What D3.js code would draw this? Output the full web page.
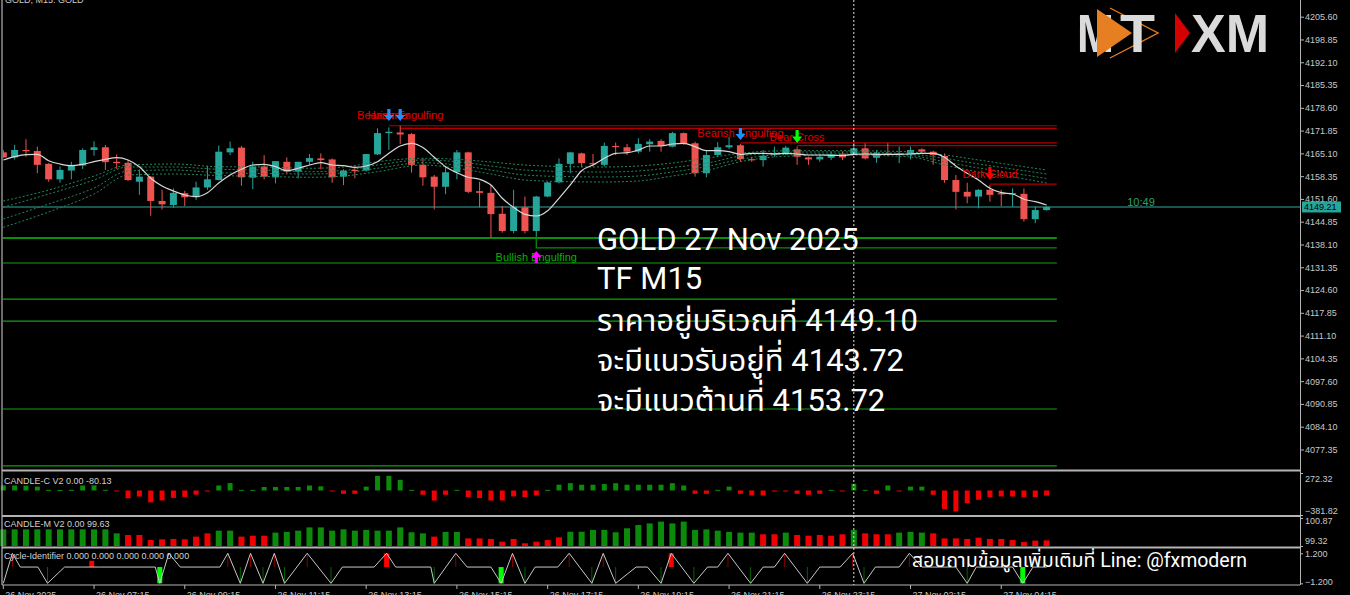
<!DOCTYPE html>
<html><head><meta charset="utf-8">
<script src="https://cdn.jsdelivr.net/npm/d3@7"></script>
<style>
html,body{margin:0;padding:0;background:#000;overflow:hidden}
svg{display:block}
</style></head><body>
<svg id="c" width="1350" height="595"></svg>
<script>
// ---------- DATA ----------
const opens  = [4165.4,4163.9,4166.1,4165.8,4162.0,4157.4,4160.0,4161.5,4166.1,4166.9,4162.6,4162.3,4156.7,4158.2,4151.0,4149.8,4153.3,4152.1,4155.0,4157.2,4165.4,4166.8,4157.9,4161.2,4158.0,4162.6,4159.7,4162.6,4163.6,4163.3,4158.2,4160.2,4160.0,4164.8,4171.1,4171.3,4170.8,4161.7,4158.2,4155.2,4159.5,4165.4,4153.9,4153.4,4147.2,4142.1,4149.1,4142.1,4152.3,4156.5,4162.0,4165.1,4162.2,4161.7,4167.3,4166.9,4165.6,4167.8,4168.8,4167.1,4171.1,4168.1,4159.2,4164.6,4166.9,4167.5,4163.4,4163.1,4164.7,4164.9,4166.3,4163.9,4163.3,4163.8,4165.0,4164.9,4166.6,4163.8,4165.1,4164.6,4164.8,4166.3,4165.6,4164.3,4157.2,4153.7,4152.3,4154.3,4153.3,4153.1,4153.1,4145.6,4148.3];
const highs  = [4166.1,4167.6,4169.3,4167.1,4162.2,4161.2,4162.6,4166.6,4168.7,4167.6,4164.8,4163.1,4160.4,4158.4,4154.3,4154.7,4154.0,4156.7,4161.4,4167.4,4168.6,4167.3,4162.6,4164.6,4162.8,4163.9,4162.6,4164.9,4165.1,4163.6,4160.4,4161.2,4164.9,4172.5,4172.8,4173.3,4171.1,4163.6,4158.7,4161.2,4166.1,4165.6,4156.7,4155.7,4149.5,4154.3,4152.3,4152.5,4156.6,4163.6,4165.5,4165.3,4164.9,4168.3,4168.3,4167.9,4169.6,4169.3,4169.3,4171.5,4171.3,4168.6,4165.9,4168.4,4170.0,4167.9,4164.1,4166.1,4167.1,4167.3,4167.1,4164.1,4164.9,4165.6,4165.6,4168.1,4168.1,4166.1,4168.1,4167.1,4167.1,4166.6,4165.9,4165.1,4158.7,4156.4,4154.5,4155.7,4154.3,4154.7,4154.7,4149.3,4149.5];
const lows   = [4163.7,4163.3,4164.1,4159.2,4156.7,4156.4,4157.4,4160.5,4164.4,4160.2,4160.5,4156.9,4152.8,4146.6,4148.5,4149.0,4149.5,4151.3,4154.3,4157.1,4164.6,4155.5,4154.5,4157.4,4156.2,4159.2,4157.7,4161.7,4160.4,4156.4,4155.7,4157.7,4159.7,4164.6,4166.1,4167.9,4159.4,4155.5,4148.5,4153.0,4157.4,4153.3,4149.1,4140.2,4141.6,4141.4,4141.4,4140.6,4152.1,4156.2,4159.2,4161.0,4161.2,4161.2,4164.6,4164.6,4165.1,4165.6,4165.6,4166.9,4167.6,4158.2,4158.0,4164.1,4166.3,4162.6,4162.6,4161.2,4164.1,4164.6,4161.7,4161.7,4162.6,4163.1,4163.1,4164.6,4163.3,4162.3,4164.3,4162.2,4163.3,4165.1,4161.7,4156.4,4148.5,4150.3,4148.8,4150.8,4149.5,4149.3,4144.9,4144.4,4148.1];
const closes = [4163.9,4166.1,4165.8,4161.7,4157.4,4160.2,4161.7,4166.1,4166.9,4162.5,4162.2,4157.2,4158.2,4151.0,4150.0,4153.4,4152.1,4155.0,4157.4,4165.6,4166.6,4158.0,4161.2,4158.2,4162.8,4159.7,4162.6,4163.7,4163.1,4158.0,4159.9,4159.9,4164.9,4171.1,4171.5,4170.7,4161.7,4158.0,4155.2,4159.5,4165.4,4153.7,4153.4,4147.1,4142.1,4149.3,4142.1,4152.3,4156.5,4162.0,4165.4,4162.2,4161.9,4167.3,4167.1,4165.6,4167.9,4168.6,4167.3,4171.1,4167.9,4159.2,4164.6,4166.9,4167.5,4163.4,4163.1,4164.4,4165.2,4166.8,4164.1,4163.3,4164.1,4164.8,4163.9,4166.6,4163.6,4165.1,4164.8,4165.1,4166.1,4165.6,4164.6,4157.2,4153.7,4152.3,4154.3,4152.8,4153.0,4153.3,4145.6,4148.3,4149.21];
const maLine = [4163.14,4164.11,4164.71,4164.82,4162.93,4161.95,4161.45,4161.86,4162.63,4163.34,4163.82,4163.14,4161.15,4157.71,4155.43,4153.95,4152.76,4152.26,4153.45,4156.32,4158.69,4160.38,4161.65,4161.86,4161.15,4159.97,4160.68,4161.65,4162.34,4161.65,4161.45,4160.97,4161.36,4162.63,4165.12,4167.29,4168.08,4166.84,4163.94,4161.15,4159.37,4158.01,4157.42,4155.73,4151.79,4149.12,4147.04,4146.54,4148.11,4151.79,4155.73,4159.97,4161.65,4163.64,4165.12,4165.30,4166.10,4167.29,4167.29,4167.88,4168.08,4167.08,4165.89,4165.89,4165.60,4164.82,4165.12,4165.12,4164.91,4165.12,4164.91,4164.62,4164.62,4164.53,4164.47,4164.82,4164.91,4164.82,4164.82,4164.82,4164.91,4165.12,4165.12,4163.94,4161.36,4159.19,4157.21,4154.75,4153.45,4153.06,4151.49,4150.78,4149.80];
const ribbonBars = [0,4,8,11,15,19,23,27,30,33,37,40,43,46,50,53,56,59,62,65,68,71,74,77,80,83,86,89,92];
const ribbon1 = [4150.99,4154.25,4158.39,4161.65,4161.95,4161.15,4161.06,4160.68,4161.06,4162.63,4163.64,4163.34,4162.54,4161.65,4161.15,4161.06,4161.36,4162.25,4163.64,4165.12,4165.80,4165.89,4165.89,4165.80,4165.51,4164.62,4163.14,4161.65,4160.17];
const ribbon2 = [4149.12,4153.06,4157.21,4161.06,4161.06,4160.38,4160.17,4159.67,4160.03,4161.65,4163.14,4162.63,4161.36,4160.17,4159.67,4159.58,4159.88,4160.91,4162.16,4164.32,4165.21,4165.51,4165.51,4165.36,4164.91,4163.64,4161.95,4160.47,4158.99];
const ribbon3 = [4145.65,4150.10,4154.84,4159.88,4160.17,4159.37,4159.14,4158.99,4159.28,4160.68,4162.34,4161.65,4160.17,4158.69,4158.19,4158.10,4158.39,4159.58,4161.15,4163.34,4164.62,4164.91,4164.91,4164.91,4164.47,4162.63,4160.77,4159.28,4157.65];
const ribbon4 = [4143.19,4147.73,4153.06,4158.69,4158.99,4158.54,4158.25,4158.01,4158.39,4159.67,4161.65,4160.68,4158.99,4157.21,4156.70,4156.62,4156.91,4158.39,4159.97,4162.63,4164.03,4164.47,4164.62,4164.47,4164.03,4161.65,4159.58,4158.10,4156.32];
const supportLevels = [4140.0,4132.6,4121.9,4115.4,4089.35,4072.5];
const resistBars   = [34,35,65,70,87];
const resistPrices = [4173.3,4172.5,4168.2,4167.4,4156.0];
const bullLevelBar = 47, bullLevelPrice = 4137.1;
const lastPrice = 4149.21;
const priceTicks = [4205.60,4198.85,4192.10,4185.35,4178.60,4171.85,4165.10,4158.35,4151.60,4144.85,4138.10,4131.35,4124.60,4117.85,4111.10,4104.35,4097.60,4090.85,4084.10,4077.35];
const tickBars   = [0,8,16,24,32,40,48,56,64,72,80,88];
const tickLabels = ["26 Nov 2025","26 Nov 07:15","26 Nov 09:15","26 Nov 11:15","26 Nov 13:15","26 Nov 15:15","26 Nov 17:15","26 Nov 19:15","26 Nov 21:15","26 Nov 23:15","27 Nov 02:15","27 Nov 04:15"];
const candleC = [80,78,75,60,10,8,10,78,80,10,-10,-120,-95,-185,-155,-115,-100,-65,-12,78,115,10,10,55,55,55,55,78,65,-12,-52,-52,60,228,228,166,10,-67,-156,-67,10,-104,-119,-156,-156,-93,-104,-78,10,90,114,90,90,100,114,90,90,90,90,114,78,-52,-52,10,60,-52,-78,-78,-10,-10,-52,-67,-52,10,-10,104,10,-52,78,-10,60,60,-67,-291,-327,-197,-145,-104,-93,-93,-104,-104,-80.13];
const candleM = [100.24,100.24,100.24,100.24,100.24,100.24,100.24,100.24,100.24,100.24,100.02,99.93,99.93,99.65,99.69,99.71,99.69,99.84,100.02,100.17,100.17,99.84,99.89,99.89,100.06,100.10,100.17,100.35,100.35,100.17,100.24,100.17,100.21,100.17,100.17,100.35,100.08,100.02,99.84,100.10,100.10,99.74,99.74,99.71,99.56,99.71,99.47,99.56,99.65,99.80,100.11,100.11,100.21,100.21,100.08,100.30,100.48,100.57,100.67,100.57,100.67,100.21,100.24,100.17,100.10,100.06,100.06,99.97,99.97,100.06,99.93,99.89,99.93,99.89,99.97,100.21,100.02,99.97,99.97,100.06,100.10,100.06,100.02,99.74,99.74,99.71,99.78,99.71,99.71,99.65,99.54,99.62,99.63];
const candleMUp = [1,1,1,1,1,1,1,1,1,1,1,0,0,0,0,0,0,0,0,1,1,0,0,0,1,1,1,1,1,1,1,1,1,1,1,1,1,1,0,1,1,0,0,0,0,0,0,0,0,0,1,1,1,1,1,1,1,1,1,1,1,1,1,1,1,1,1,0,0,1,0,0,0,0,0,1,0,0,0,1,1,1,0,0,0,0,0,0,0,0,0,0,0];
const cycleBars = [0,0.8,1.5,3.05,3.9,5.4,6.9,8.6,13.4,13.8,14.6,15.6,19.1,19.8,20.9,21.8,22.9,23.9,24.8,26.8,28.9,29.9,32.7,33.8,34.6,37.7,38,39.9,40.9,43,43.9,44.9,46,46.9,48.9,49.9,51.9,52.9,54,55.8,56.8,58,58.9,60.9,62.1,63,63.9,65.9,67,68,68.9,70.9,72,73.8,74.9,75.9,76.9,79,79.9,81,84,85,85.8,89,89.9,90.8,92];
const cycleVals = [-1.2,1.2,0.1,0.1,-1.2,0.1,0.1,0.1,0.1,-1.2,1.2,0.1,0.1,1.2,-1.2,1.2,-1.2,1.2,-1.2,1.2,-1.2,0.1,0.1,1.2,0.1,0.1,-1.2,1.2,0.1,0.1,-1.2,1.2,-1.2,0.1,0.1,1.2,-1.2,1.2,-1.2,0.1,0.1,-1.2,1.2,-1.2,0.1,0.1,1.2,-1.2,0.1,0.1,1.2,-1.2,0.1,0.1,1.2,-1.2,0.1,0.1,1.2,0.1,0.1,-1.2,0.1,0.1,-1.2,0.1,0.1];
const cyclePeakTicks   = [0.8,19.8,21.8,23.9,26.8,39.9,44.9,49.9,52.9,63.9,68.9,74.9,79.9];
const cycleTroughTicks = [3.9,20.9,22.9,24.8,28.9,38,46,51.9,54,58,60.9,65.9,70.9,75.9,85];
const cycleSellBars = [7.8,33.8,58.9];
const cycleSellTop  = [0.6,1.2,1.2];
const cycleBuyBars  = [13.8,43.9,89.9];
const cursorBar = 75;
const overlayLines = ["GOLD 27 Nov 2025","TF M15","ราคาอยู่บริเวณที่ 4149.10","จะมีแนวรับอยู่ที่ 4143.72","จะมีแนวต้านที่ 4153.72"];
const footerText = "สอบถามข้อมูลเพิ่มเติมที่ Line: @fxmodern";

// ---------- CHART ----------
const W=1350,H=595, AX=1300;
const svg=d3.select('#c');
svg.append('rect').attr('width',W).attr('height',H).attr('fill','#000');

const x  = d3.scaleLinear().domain([0,92]).range([3.3,1046.6]);
const y  = d3.scaleLinear().domain([4071.86,4210.55]).range([468,0]);
const yC = d3.scaleLinear().domain([-381.82,272.32]).range([515,473]);
const yM = d3.scaleLinear().domain([99.32,100.87]).range([546,518]);
const yCy= d3.scaleLinear().domain([-1.2,1.2]).range([583.3,553.3]);
const lvlEnd = x(92.9);
const FONT = "'Liberation Sans', Arial, sans-serif";

svg.append('defs').append('clipPath').attr('id','mainclip')
  .append('rect').attr('x',3).attr('y',0).attr('width',AX-3).attr('height',469);
const main = svg.append('g').attr('clip-path','url(#mainclip)');

// support levels
main.selectAll('line.sup').data(supportLevels).join('line')
  .attr('x1',3).attr('x2',lvlEnd).attr('y1',d=>y(d)).attr('y2',d=>y(d))
  .attr('stroke',(d,i)=>i===0?'#0b8f0b':'#13a013').attr('stroke-width',(d,i)=>i===0?2:1.1);
main.append('path')
  .attr('d',`M${x(bullLevelBar)},${y(lows[bullLevelBar])}V${y(bullLevelPrice)}H${lvlEnd}`)
  .attr('fill','none').attr('stroke','#0b8a0b').attr('stroke-width',1.3);

// current price line
main.append('line').attr('x1',3).attr('x2',AX).attr('y1',y(lastPrice)).attr('y2',y(lastPrice))
  .attr('stroke','#22706a').attr('stroke-width',1.4);

// resistance levels
main.selectAll('line.res').data(resistBars).join('line')
  .attr('x1',d=>x(d)).attr('x2',lvlEnd)
  .attr('y1',(d,i)=>y(resistPrices[i])).attr('y2',(d,i)=>y(resistPrices[i]))
  .attr('stroke','#b00000').attr('stroke-width',1.1);

// candles
const idx = d3.range(opens.length);
const cg = main.append('g');
cg.selectAll('line.w').data(idx).join('line')
  .attr('x1',i=>x(i)).attr('x2',i=>x(i)).attr('y1',i=>y(highs[i])).attr('y2',i=>y(lows[i]))
  .attr('stroke',i=>closes[i]>=opens[i]?'#26a69a':'#ef5350').attr('stroke-width',1);
cg.selectAll('rect.b').data(idx).join('rect')
  .attr('x',i=>x(i)-3.5).attr('width',7)
  .attr('y',i=>y(Math.max(opens[i],closes[i])))
  .attr('height',i=>Math.max(1.2,Math.abs(y(opens[i])-y(closes[i]))))
  .attr('fill',i=>closes[i]>=opens[i]?'#26a69a':'#ef5350');

// ribbon dotted lines
const rl = d3.line().x((d,i)=>x(ribbonBars[i])).y(d=>y(d)).curve(d3.curveMonotoneX);
[ribbon1,ribbon2,ribbon3,ribbon4].forEach(r=>{
  main.append('path').attr('d',rl(r)).attr('fill','none')
    .attr('stroke','#22875a').attr('stroke-width',1).attr('stroke-dasharray','2,2');
});
// MA white line
main.append('path').attr('d',d3.line().x((d,i)=>x(i)).y(d=>y(d)).curve(d3.curveMonotoneX)(maLine))
  .attr('fill','none').attr('stroke','#d8d8d8').attr('stroke-width',1.2);

// pattern labels + arrows
function arrow(cx, top, h, dir, color){
  const hw=5, sw=1.6;
  let p;
  const hb=top+h*0.5;
  if(dir==='down'){
    p=`M${cx-sw},${top}H${cx+sw}V${hb}H${cx+hw}L${cx},${top+h}L${cx-hw},${hb}H${cx-sw}Z`;
  } else {
    p=`M${cx-sw},${top+h}H${cx+sw}V${hb}H${cx+hw}L${cx},${top}L${cx-hw},${hb}H${cx-sw}Z`;
  }
  main.append('path').attr('d',p).attr('fill',color);
}
const pl = main.append('g').attr('font-family',FONT).attr('font-size',11).attr('text-anchor','middle');
pl.append('text').attr('x',x(35)).attr('y',119).attr('fill','#e00000').text('Bearish Engulfing');
pl.append('text').attr('x',x(34)).attr('y',119).attr('fill','#e00000').text('Hammer');
pl.append('text').attr('x',x(65)).attr('y',137).attr('fill','#e00000').text('Bearish Engulfing');
pl.append('text').attr('x',x(70)).attr('y',140.5).attr('fill','#e00000').text('Bear Cross');
pl.append('text').attr('x',x(87)).attr('y',178).attr('fill','#e00000').text('Dark Cloud');
pl.append('text').attr('x',x(47)).attr('y',261).attr('fill','#00b400').text('Bullish Engulfing');
arrow(x(34),109,12,'down','#1e90ff');
arrow(x(35),109,12,'down','#1e90ff');
arrow(x(65),128,12,'down','#1e90ff');
arrow(x(70),130,13,'down','#00ff00');
arrow(x(87),167,13,'down','#ff0000');
arrow(x(47),251,12,'up','#ff00ff');

// overlay text
const ov = svg.append('g').attr('font-family',"Roboto,'Noto Sans','Noto Sans Thai',sans-serif").attr('fill','#ffffff').attr('font-size',31);
const ovY=[250,289,331,371,411];
overlayLines.forEach((t,i)=>ov.append('text').attr('x',597).attr('y',ovY[i]).text(t));

// time remaining
svg.append('text').attr('x',1141).attr('y',206).attr('text-anchor','middle').attr('font-family',FONT)
  .attr('font-size',11).attr('fill','#2ea060').text('10:49');

// logo
const lg = svg.append('g').attr('font-family',"'Liberation Sans',Arial,sans-serif").attr('font-weight','bold').attr('font-size',53).attr('fill','#dadada');
lg.append('text').attr('x',1077).attr('y',52).attr('textLength',37).attr('lengthAdjust','spacingAndGlyphs').text('M');
lg.append('path').attr('d','M1110,8L1158,33L1110,58').attr('fill','none').attr('stroke','#e67e22').attr('stroke-width',1.4);
lg.append('text').attr('x',1120).attr('y',52).attr('textLength',35).attr('lengthAdjust','spacingAndGlyphs').text('T');
lg.append('path').attr('d','M1097,9L1132,33L1097,57Z').attr('fill','#e67e22');
lg.append('path').attr('d','M1175,13L1190,33L1175,53Z').attr('fill','#d50000');
lg.append('text').attr('x',1191).attr('y',52).attr('textLength',78).attr('lengthAdjust','spacingAndGlyphs').text('XM');

// top-left title (cut)
svg.append('text').attr('x',5).attr('y',3).attr('font-family',FONT).attr('font-size',9).attr('fill','#ccc').text('GOLD, M15:  GOLD');

// ---------- SUBPANELS ----------
svg.selectAll('rect.cc').data(candleC).join('rect')
  .attr('x',(d,i)=>x(i)-2.5).attr('width',5)
  .attr('y',d=>Math.min(yC(0),yC(d))).attr('height',d=>Math.max(1,Math.abs(yC(d)-yC(0))))
  .attr('fill',d=>d>=0?'#0b8a0b':'#f00000');
svg.selectAll('rect.cm').data(candleM).join('rect')
  .attr('x',(d,i)=>x(i)-3).attr('width',6)
  .attr('y',d=>yM(d)).attr('height',d=>yM(99.32)-yM(d))
  .attr('fill',(d,i)=>candleMUp[i]?'#0b8a0b':'#f00000');
const cyc = svg.append('g');
cyc.selectAll('line.pk').data(cyclePeakTicks).join('line')
  .attr('x1',d=>x(d)).attr('x2',d=>x(d)).attr('y1',yCy(1.2)).attr('y2',yCy(0.1))
  .attr('stroke','#8b0000').attr('stroke-width',1);
cyc.selectAll('line.tr').data(cycleTroughTicks).join('line')
  .attr('x1',d=>x(d)).attr('x2',d=>x(d)).attr('y1',yCy(-1.2)).attr('y2',yCy(0.1))
  .attr('stroke','#006400').attr('stroke-width',1);
cyc.selectAll('rect.sell').data(cycleSellBars).join('rect')
  .attr('x',d=>x(d)-2.5).attr('width',5).attr('y',(d,i)=>yCy(cycleSellTop[i]))
  .attr('height',(d,i)=>yCy(0.1)-yCy(cycleSellTop[i])).attr('fill','#ff0000');
cyc.selectAll('rect.buy').data(cycleBuyBars).join('rect')
  .attr('x',d=>x(d)-2.5).attr('width',5).attr('y',yCy(0.1))
  .attr('height',yCy(-1.2)-yCy(0.1)).attr('fill','#00ff00');
cyc.append('path').attr('d',d3.line().x((d,i)=>x(cycleBars[i])).y(d=>yCy(d))(cycleVals))
  .attr('fill','none').attr('stroke','#c8c8c8').attr('stroke-width',1);

// footer text
svg.append('text').attr('x',912).attr('y',567).attr('font-family',"Roboto,'Noto Sans','Noto Sans Thai',sans-serif")
  .attr('font-size',19.5).attr('fill','#fff').text(footerText);

// panel labels
const lab = svg.append('g').attr('font-family',FONT).attr('font-size',9).attr('fill','#d0d0d0');
lab.append('text').attr('x',4).attr('y',484).text('CANDLE-C V2 0.00 -80.13');
lab.append('text').attr('x',4).attr('y',527).text('CANDLE-M V2 0.00 99.63');
lab.append('text').attr('x',4).attr('y',559).text('Cycle-Identifier 0.000 0.000 0.000 0.000 0.000');

// separators & borders
const sep = svg.append('g').attr('stroke','#b4b4b4');
[470.5,516,547.5].forEach(v=>sep.append('line').attr('x1',2).attr('x2',AX).attr('y1',v).attr('y2',v).attr('stroke-width',2.2));
sep.append('line').attr('x1',2).attr('x2',AX).attr('y1',585).attr('y2',585).attr('stroke-width',1);
sep.append('line').attr('x1',2).attr('x2',2).attr('y1',0).attr('y2',585).attr('stroke-width',1.2);

// cursor dashed line
svg.append('line').attr('x1',x(cursorBar)).attr('x2',x(cursorBar)).attr('y1',0).attr('y2',585)
  .attr('stroke','#e0e0e0').attr('stroke-width',1).attr('stroke-dasharray','2,2');

// ---------- AXES ----------
function styleAxis(g){
  g.select('.domain').attr('stroke','#b4b4b4');
  g.selectAll('.tick line').attr('stroke','#b4b4b4');
  g.selectAll('.tick text').attr('fill','#c8c8c8').attr('font-family',FONT).attr('font-size',9);
}
const ya = svg.append('g').attr('transform',`translate(${AX},0)`)
  .call(d3.axisRight(y).tickValues(priceTicks).tickFormat(d3.format('.2f')).tickSize(4).tickPadding(1).tickSizeOuter(0));
styleAxis(ya);
ya.select('.domain').attr('d','M0.5,0V585');

svg.append('rect').attr('x',AX+2).attr('y',y(lastPrice)-5.5).attr('width',39).attr('height',11).attr('fill','#26a69a');
svg.append('text').attr('x',AX+4).attr('y',y(lastPrice)+3.5).attr('font-family',FONT).attr('font-size',9).attr('fill','#000').text(lastPrice.toFixed(2));

function subAxis(scale, vals, fmt, offs){
  const g = svg.append('g').attr('transform',`translate(${AX},0)`)
    .call(d3.axisRight(scale).tickValues(vals).tickFormat(fmt).tickSize(3).tickPadding(2).tickSizeOuter(0));
  styleAxis(g);
  g.select('.domain').remove();
  g.selectAll('.tick text').attr('y',(d,i)=>offs[i]);
}
subAxis(yC,[272.32,-381.82],d3.format('.2f'),[6,-4]);
subAxis(yM,[100.87,99.32],d3.format('.2f'),[3,-5]);
subAxis(yCy,[1.2,-1.2],d3.format('.3f'),[0,-2]);

// time axis
const ta = svg.append('g');
ta.selectAll('line').data(tickBars).join('line')
  .attr('x1',d=>x(d)).attr('x2',d=>x(d)).attr('y1',585).attr('y2',589).attr('stroke','#b4b4b4');
ta.selectAll('text').data(tickBars).join('text')
  .attr('x',d=>x(d)+2).attr('y',598).attr('font-family',FONT).attr('font-size',9).attr('fill','#c8c8c8')
  .text((d,i)=>tickLabels[i]);
</script>
</body></html>
